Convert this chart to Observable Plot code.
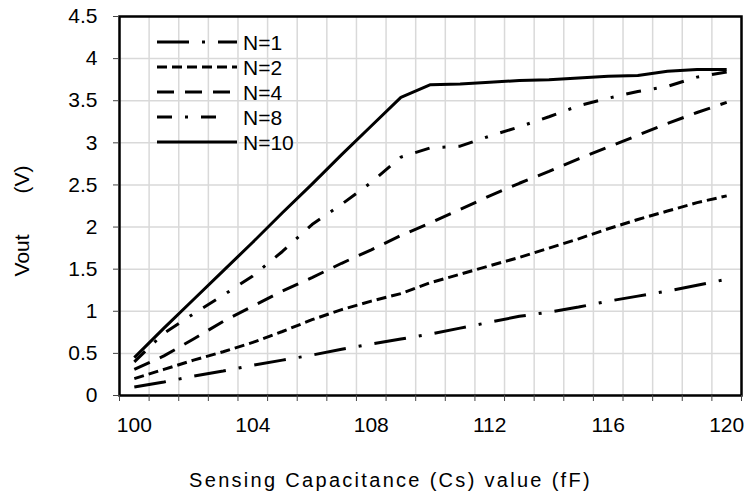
<!DOCTYPE html>
<html>
<head>
<meta charset="utf-8">
<script src="https://cdn.jsdelivr.net/npm/d3@7"></script>
<script src="https://cdn.jsdelivr.net/npm/@observablehq/plot@0.6"></script>
<style>
  html, body { margin: 0; padding: 0; background: #fff; }
  #wrap { position: relative; width: 746px; height: 502px; }
  #legend { position: absolute; left: 0; top: 0; pointer-events: none; }
  text { white-space: pre; }
</style>
</head>
<body>
<div id="wrap"></div>
<script>
// ---- data ----
const capacitance = [100,101,102,103,104,105,106,107,108,109,110,111,112,113,114,115,116,117,118,119,120];
const seriesNames = ["N=1", "N=2", "N=4", "N=8", "N=10"];
const vN1  = [0.10,0.16,0.23,0.29,0.36,0.42,0.48,0.55,0.61,0.67,0.73,0.80,0.87,0.94,0.99,1.05,1.12,1.18,1.24,1.31,1.38];
const vN2  = [0.20,0.31,0.42,0.52,0.63,0.76,0.90,1.02,1.12,1.21,1.34,1.44,1.54,1.64,1.75,1.86,1.98,2.09,2.19,2.29,2.37];
const vN4  = [0.31,0.47,0.67,0.88,1.06,1.24,1.40,1.57,1.73,1.90,2.05,2.21,2.37,2.52,2.66,2.81,2.95,3.09,3.23,3.36,3.48];
const vN8  = [0.40,0.74,0.97,1.19,1.42,1.71,2.03,2.27,2.53,2.83,2.94,2.96,3.08,3.19,3.31,3.44,3.53,3.61,3.67,3.78,3.84];
const vN10 = [0.45,0.80,1.14,1.48,1.82,2.17,2.51,2.86,3.20,3.54,3.69,3.70,3.72,3.74,3.75,3.77,3.79,3.80,3.85,3.87,3.87];
const xTickLabels = [100,104,108,112,116,120];
const yTickLabels = [0,0.5,1,1.5,2,2.5,3,3.5,4,4.5];
const xTitle = "Sensing Capacitance (Cs) value (fF)";
const yTitle = "Vout       (V)";

// ---- styles (not data) ----
const dashes = {"N=1": "32,13,3,13", "N=2": "10,5", "N=4": "17,11", "N=8": "15,13,3,13", "N=10": null};
const seriesValues = [vN1, vN2, vN4, vN8, vN10];

const rows = [];
seriesNames.forEach((name, i) => {
  capacitance.forEach((c, j) => rows.push({series: name, cs: c, v: seriesValues[i][j]}));
});

const boundaries = capacitance.map(c => c - 0.5).concat([capacitance[capacitance.length - 1] + 0.5]);
const font = "'Liberation Sans', Arial, sans-serif";

const lineMarks = seriesNames.map(name => Plot.line(rows.filter(r => r.series === name), {
  x: "cs", y: "v", stroke: "black", strokeWidth: 3,
  strokeDasharray: dashes[name] || undefined,
  strokeLinecap: "butt", strokeLinejoin: "round"
}));

const chart = Plot.plot({
  width: 746,
  height: 502,
  marginLeft: 119,
  marginRight: 5,
  marginTop: 16,
  marginBottom: 107,
  style: {fontFamily: font, fontSize: "21px", color: "black", background: "white"},
  x: {type: "linear", domain: [boundaries[0], boundaries[boundaries.length - 1]]},
  y: {domain: [0, 4.5]},
  marks: [
    Plot.gridX(boundaries, {stroke: "#d9d9d9", strokeOpacity: 1, strokeWidth: 1.5}),
    Plot.gridY(yTickLabels, {stroke: "#d9d9d9", strokeOpacity: 1, strokeWidth: 1.5}),
    ...lineMarks,
    Plot.frame({stroke: "black", strokeWidth: 2.5}),
    Plot.axisY(yTickLabels, {tickSize: 6, tickPadding: 16, label: null, tickFormat: d => String(d), stroke: "#444"}),
    Plot.axisX(boundaries, {tickSize: 6, tickFormat: () => "", label: null, stroke: "#444"}),
    Plot.axisX(xTickLabels, {tickSize: 0, tickPadding: 22, label: null, tickFormat: d => String(d)}),
    Plot.text([xTitle], {frameAnchor: "bottom", textAnchor: "middle", lineAnchor: "middle", dx: -40, dy: 85, fontSize: 20, fill: "black"}),
    Plot.text([yTitle], {frameAnchor: "left", textAnchor: "middle", lineAnchor: "middle", dx: -97, dy: 15, rotate: -90, fontSize: 21, fill: "black"})
  ]
});

const wrap = document.getElementById("wrap");
wrap.appendChild(chart);
chart.querySelectorAll("text").forEach(t => {
  if (t.textContent === xTitle) t.setAttribute("letter-spacing", "2.3");
});

// ---- legend overlay ----
const ns = "http://www.w3.org/2000/svg";
const lg = document.createElementNS(ns, "svg");
lg.setAttribute("id", "legend");
lg.setAttribute("width", 746);
lg.setAttribute("height", 502);
seriesNames.forEach((name, i) => {
  const y = 42 + i * 25;
  const ln = document.createElementNS(ns, "line");
  ln.setAttribute("x1", 157);
  ln.setAttribute("x2", name === "N=8" ? 220 : 237);
  ln.setAttribute("y1", y);
  ln.setAttribute("y2", y);
  ln.setAttribute("stroke", "black");
  ln.setAttribute("stroke-width", 3);
  if (dashes[name]) ln.setAttribute("stroke-dasharray", dashes[name]);
  lg.appendChild(ln);
  const tx = document.createElementNS(ns, "text");
  tx.setAttribute("x", 243);
  tx.setAttribute("y", y);
  tx.setAttribute("dy", "0.36em");
  tx.setAttribute("font-family", font);
  tx.setAttribute("font-size", 21);
  tx.textContent = name;
  lg.appendChild(tx);
});
wrap.appendChild(lg);
</script>
</body>
</html>
